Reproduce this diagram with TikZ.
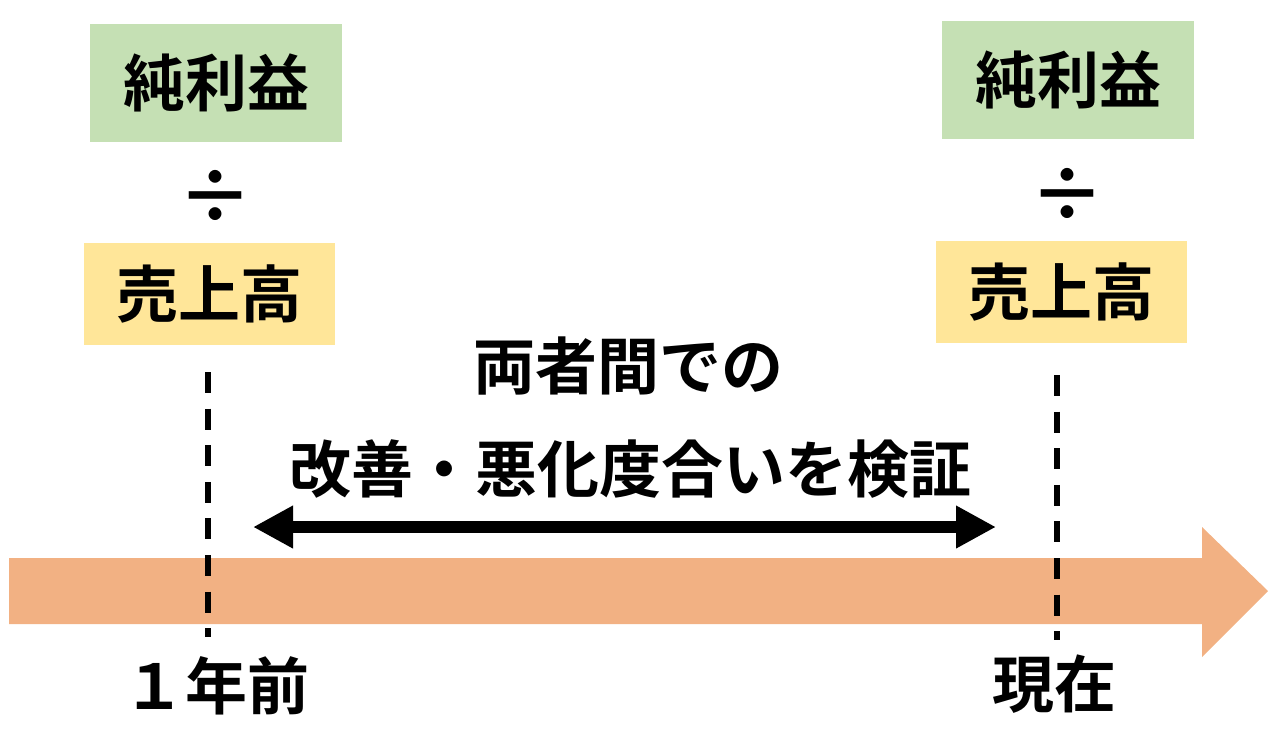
\documentclass[tikz,border=0pt]{standalone}
\usepackage{fontspec}
\setmainfont{Noto Sans CJK JP}[BoldFont=* Bold]
\usetikzlibrary{arrows.meta}
\definecolor{gbox}{HTML}{C5E0B4}
\definecolor{ybox}{HTML}{FFE699}
\definecolor{band}{HTML}{F2B183}
\begin{document}
\begin{tikzpicture}[x=0.5pt,y=-0.5pt,
  lbl/.style={inner sep=0pt,font=\fontsize{31pt}{36pt}\selectfont\bfseries},
  divlbl/.style={inner sep=0pt,font=\fontsize{37pt}{40pt}\selectfont\bfseries},
  greenbox/.style={fill=gbox,draw=none,minimum width=126pt,minimum height=59pt,inner sep=0pt,font=\fontsize{31pt}{36pt}\selectfont\bfseries},
  yellowbox/.style={fill=ybox,draw=none,minimum width=125.5pt,minimum height=51pt,inner sep=0pt,font=\fontsize{31pt}{36pt}\selectfont\bfseries},
  guide/.style={line width=2.8pt,dash pattern=on 10.5pt off 7.8pt},
  both/.style={line width=6pt,{Triangle[length=20pt,width=20pt]}-{Triangle[length=20pt,width=20pt]}}]
\useasboundingbox (0,0) rectangle (1280,741);
% timeline band
\fill[band] (9,558) -- (1202,558) -- (1202,527) -- (1268,591) -- (1202,657) -- (1202,624) -- (9,624) -- cycle;
% left column
\node[greenbox] (g1) at (216,83) {純利益};
\node[divlbl] (d1) at (215,197) {÷};
\node[yellowbox] (y1) at (209.5,294) {売上高};
% right column
\node[greenbox] (g2) at (1068,80) {純利益};
\node[divlbl] (d2) at (1067,195) {÷};
\node[yellowbox] (y2) at (1061.5,291.5) {売上高};
% guides
\coordinate (t1) at (208,372);
\coordinate (b1) at (208,637);
\coordinate (t2) at (1057,375);
\coordinate (b2) at (1057,640);
\draw[guide] (t1) -- (b1);
\draw[guide] (t2) -- (b2);
% labels
\node[lbl] (m1) at (628,366) {両者間での};
\node[lbl] (m2) at (630,469) {改善・悪化度合いを検証};
\node[lbl] (p1) at (216,686) {１年前};
\node[lbl] (p2) at (1054,684) {現在};
% double arrow
\coordinate (al) at (253,527);
\coordinate (ar) at (996,527);
\draw[both] (al) -- (ar);
\end{tikzpicture}
\end{document}
